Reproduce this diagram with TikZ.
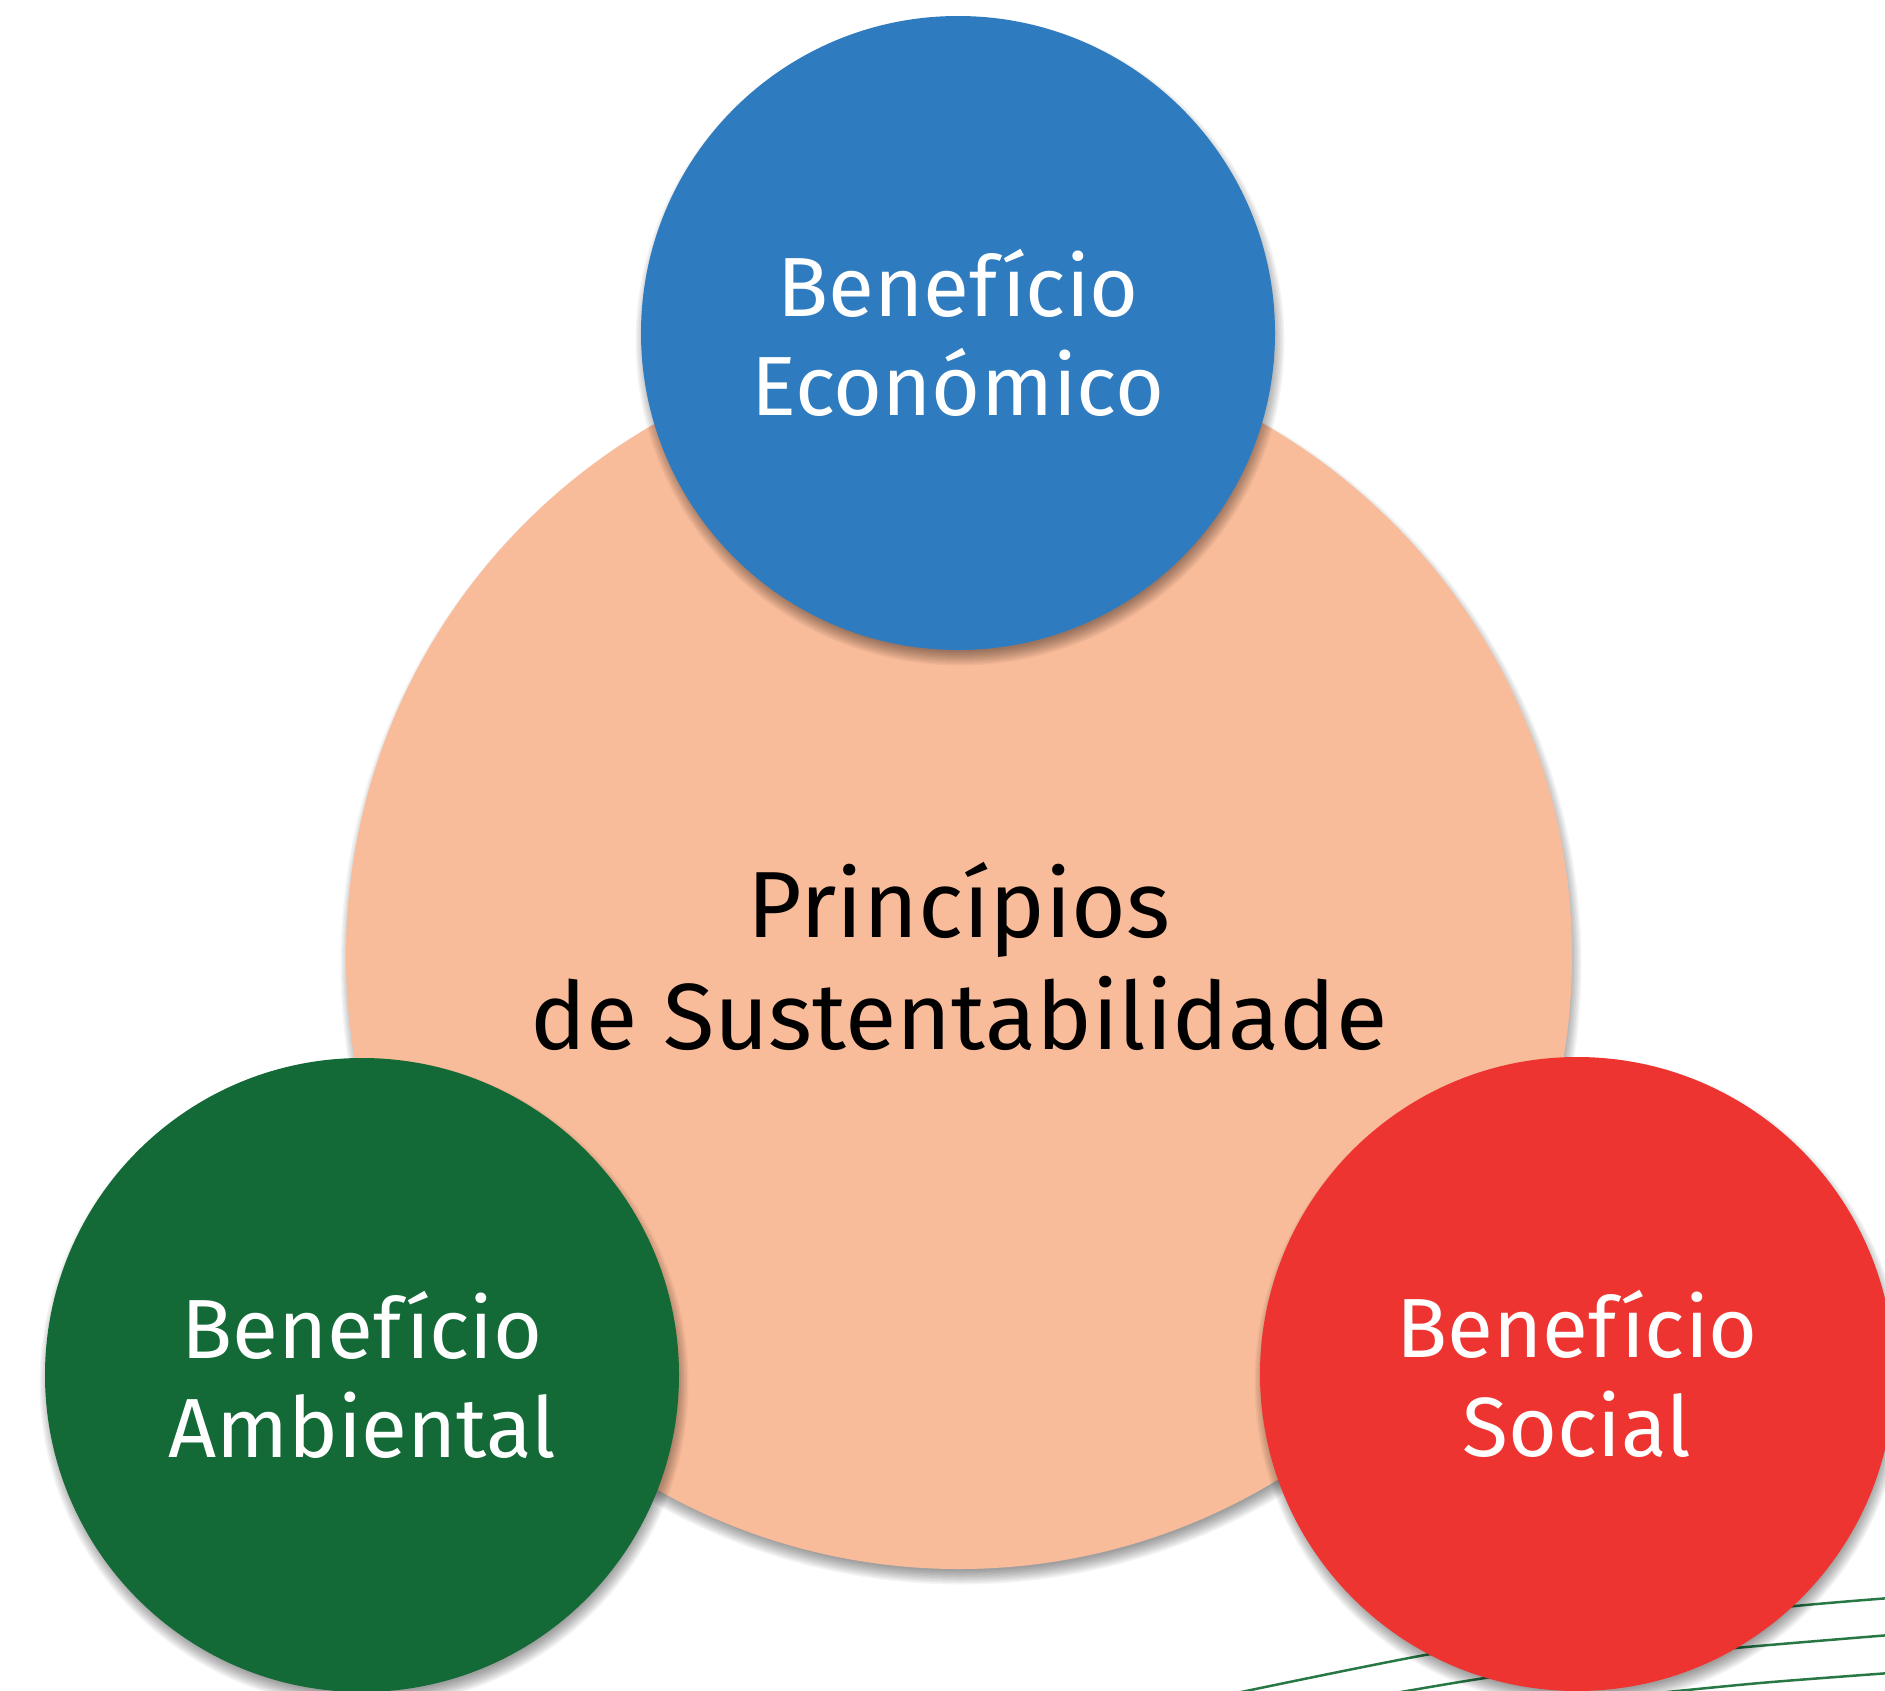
\documentclass[tikz,border=0pt]{standalone}
\usepackage{fontspec}
\setmainfont{Fira Sans}
\definecolor{peach}{RGB}{249,188,154}
\definecolor{ecoblue}{RGB}{46,124,191}
\definecolor{envgreen}{RGB}{19,106,55}
\definecolor{socred}{RGB}{238,52,48}
\definecolor{linegreen}{RGB}{40,120,70}
\newcommand\softshadow[3]{%
  \foreach \k in {0,...,9}{%
    \fill[black, opacity=0.045] (#1+2,#2+8) circle[radius={(#3-6+\k*1.5)*1pt}];
  }%
}
\begin{document}
\begin{tikzpicture}[x=1pt,y=-1pt]
\tikzset{
  bubble/.style={circle, inner sep=0pt, align=center, minimum size=634pt,
    text=white, font=\fontsize{84}{99}\selectfont},
  core/.style={circle, inner sep=0pt, align=center, minimum size=1226pt,
    fill=peach, text=black, font=\fontsize{94}{112}\selectfont},
  deco/.style={draw=linegreen, line width=2.5pt}
}
\useasboundingbox (0,0) rectangle (1885,1691);
\fill[white] (0,0) rectangle (1885,1691);
\clip (0,0) rectangle (1885,1691);
% decorative lines
\draw[deco] plot[smooth] coordinates {(1222,1696) (1425,1655) (1620,1624) (1795,1606) (1890,1598)};
\draw[deco] plot[smooth] coordinates {(1378,1696) (1485,1678) (1620,1660) (1735,1648) (1890,1635)};
\draw[deco] plot[smooth] coordinates {(1628,1696) (1760,1683) (1890,1673)};
% central circle
\softshadow{959}{956}{613}
\node[core] (core) at (959,956) {Princípios\\de Sustentabilidade};
% benefit circles
\softshadow{958}{333}{317}
\node[bubble, fill=ecoblue] (eco) at (958,333) {Benefício\\Económico};
\softshadow{362}{1375}{317}
\node[bubble, fill=envgreen] (amb) at (362,1375) {Benefício\\Ambiental};
\softshadow{1577}{1374}{317}
\node[bubble, fill=socred] (soc) at (1577,1374) {Benefício\\Social};
\end{tikzpicture}
\end{document}
